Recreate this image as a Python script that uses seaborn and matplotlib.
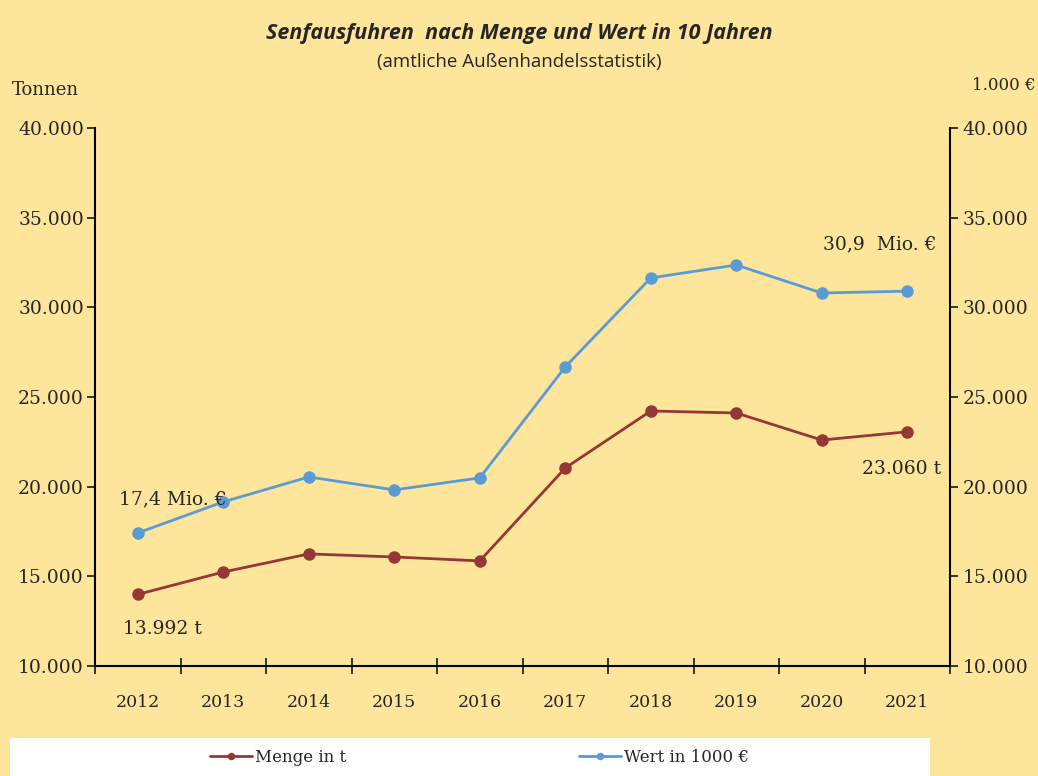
import pandas as pd
import numpy as np
import matplotlib
matplotlib.use('Agg')
import matplotlib.pyplot as plt
from matplotlib.patches import Rectangle
from matplotlib.ticker import FuncFormatter
import seaborn as sns

# Daten
jahre = ['2012', '2013', '2014', '2015', '2016', '2017', '2018', '2019', '2020', '2021']
menge_t = [13992, 15240, 16250, 16080, 15860, 21040, 24220, 24110, 22600, 23060]
wert_1000eur = [17420, 19150, 20540, 19820, 20490, 26680, 31640, 32360, 30800, 30900]
y_ticks = [10000, 15000, 20000, 25000, 30000, 35000, 40000]

df = pd.DataFrame({'Jahr': jahre, 'Menge': menge_t, 'Wert': wert_1000eur})

bg = '#FDE59B'
rot = '#953735'
blau = '#5B9BD5'
serif = ['DejaVu Serif']
sans = ['Open Sans', 'DejaVu Sans']

sns.set_style('white')
plt.rcParams['font.family'] = serif

fig = plt.figure(figsize=(10.38, 7.76), dpi=100, facecolor=bg)
ax = fig.add_axes([95/1038, 1-666/776, 855/1038, 538/776])
ax.set_facecolor(bg)
ax2 = ax.twinx()

sns.lineplot(data=df, x='Jahr', y='Menge', ax=ax, color=rot, marker='o',
             markersize=9, linewidth=2, markeredgewidth=0, label='Menge in t', legend=False)
sns.lineplot(data=df, x='Jahr', y='Wert', ax=ax2, color=blau, marker='o',
             markersize=9, linewidth=2, markeredgewidth=0, label='Wert in 1000 €', legend=False)

fmt = FuncFormatter(lambda v, p: f'{int(v):,}'.replace(',', '.'))
for a in (ax, ax2):
    a.set_ylim(10000, 40000)
    a.set_yticks(y_ticks)
    a.yaxis.set_major_formatter(fmt)
    a.set_xlim(-0.5, 9.5)
    a.set_ylabel('')
    a.set_xlabel('')
    for s in a.spines.values():
        s.set_visible(False)

ax.spines['left'].set_visible(True)
ax.spines['bottom'].set_visible(True)
ax2.spines['right'].set_visible(True)
for s in (ax.spines['left'], ax.spines['bottom'], ax2.spines['right']):
    s.set_color('black')
    s.set_linewidth(1.5)

ax.tick_params(axis='y', direction='out', length=6, width=1.3, labelsize=13.5, pad=2, left=True)
ax2.tick_params(axis='y', direction='out', length=6, width=1.3, labelsize=13.5, pad=3, right=True)
ax.set_xticks(range(len(jahre)))
ax.set_xticklabels(jahre)
ax.tick_params(axis='x', which='major', length=0, labelsize=12.5, pad=20)
ax.set_xticks(np.arange(-0.5, len(jahre), 1), minor=True)
ax.tick_params(axis='x', which='minor', direction='inout', length=11, width=1.3, bottom=True)

# Beschriftungen der Endwerte
ax2.annotate('17,4 Mio. €', xy=(0, wert_1000eur[0]), xytext=(25, 24), textcoords='offset points',
             ha='center', va='center', fontsize=13.5)
ax.annotate('13.992 t', xy=(0, menge_t[0]), xytext=(18, -25), textcoords='offset points',
            ha='center', va='center', fontsize=13.5)
ax2.annotate('30,9  Mio. €', xy=(9, wert_1000eur[-1]), xytext=(-20, 34), textcoords='offset points',
             ha='center', va='center', fontsize=13.5)
ax.annotate('23.060 t', xy=(9, menge_t[-1]), xytext=(-4, -27), textcoords='offset points',
            ha='center', va='center', fontsize=13.5)

fig.text(0.5, 1-33/776, 'Senfausfuhren  nach Menge und Wert in 10 Jahren', ha='center', va='center',
         fontsize=15.5, fontweight='bold', fontstyle='italic', family=sans)
fig.text(0.5, 1-62/776, '(amtliche Außenhandelsstatistik)', ha='center', va='center',
         fontsize=13.5, family=sans)
fig.text(12/1038, 1-90/776, 'Tonnen', ha='left', va='center', fontsize=13)
fig.text(1035/1038, 1-86/776, '1.000 €', ha='right', va='center', fontsize=12)

# Legende auf weissem Band
fig.patches.append(Rectangle((10/1038, 0), 920/1038, 38/776, transform=fig.transFigure,
                             facecolor='white', edgecolor='none', zorder=0))
h1, l1 = ax.get_legend_handles_labels()
h2, l2 = ax2.get_legend_handles_labels()
fig.legend(h1 + h2, l1 + l2, loc='center', bbox_to_anchor=(0.462, 1-757/776), ncol=2,
           frameon=False, fontsize=12, columnspacing=14, handlelength=2.5, handletextpad=0.2,
           markerscale=0.6)

fig.savefig('out.png', dpi=100, facecolor=bg)
